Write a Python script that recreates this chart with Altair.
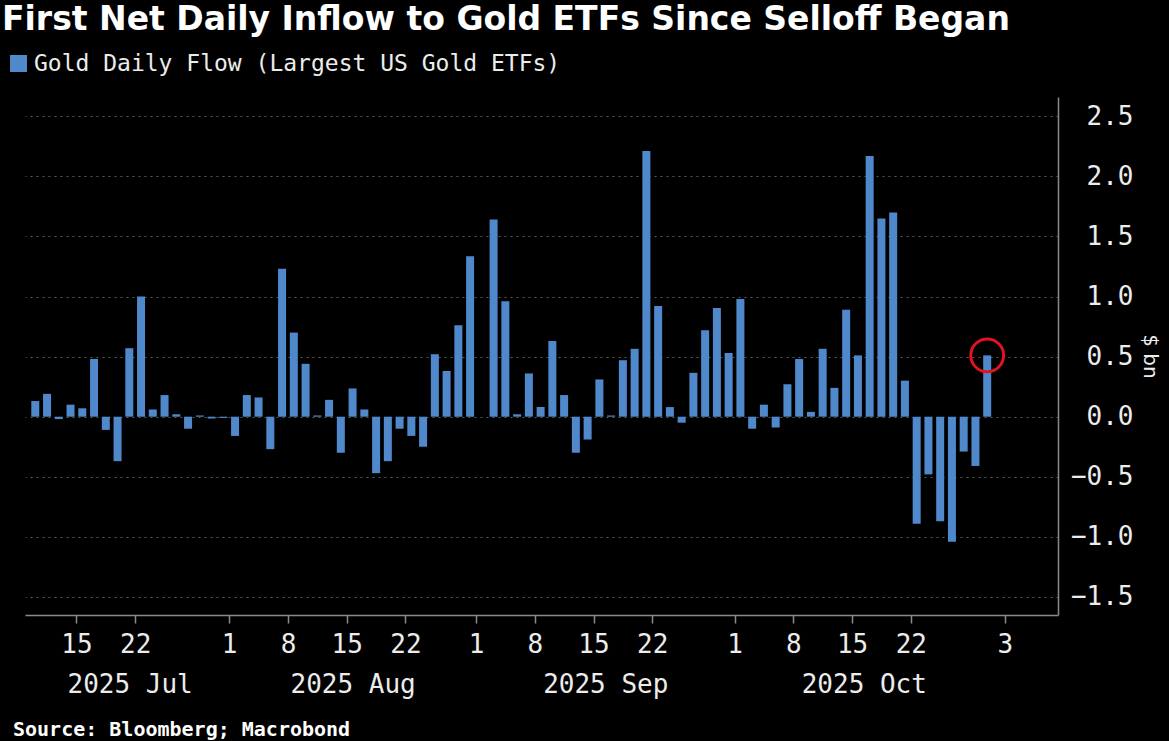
import altair as alt
import pandas as pd

TITLE = "First Net Daily Inflow to Gold ETFs Since Selloff Began"
SERIES = "Gold Daily Flow (Largest US Gold ETFs)"
SOURCE = "Source: Bloomberg; Macrobond"
Y_TITLE = "$ bn"

start_date = "2025-07-09"
end_date = "2025-10-30"

# daily net flow, $ bn, one per weekday from 2025-07-09 to 2025-10-30 (None = no data)
flows = [0.13, 0.19, -0.02, 0.10, 0.07, 0.48, -0.11, -0.37, 0.57, 1.00,
         0.06, 0.18, 0.02, -0.10, 0.01, -0.015, -0.01, -0.16, 0.18, 0.16,
         -0.27, 1.23, 0.70, 0.44, 0.01, 0.14, -0.30, 0.235, 0.06, -0.47,
         -0.37, -0.10, -0.16, -0.25, 0.52, 0.38, 0.76, 1.335, None, 1.64,
         0.96, 0.02, 0.36, 0.08, 0.63, 0.18, -0.30, -0.19, 0.31, 0.01,
         0.47, 0.565, 2.21, 0.92, 0.08, -0.05, 0.365, 0.72, 0.905, 0.53,
         0.98, -0.10, 0.10, -0.09, 0.27, 0.48, 0.04, 0.565, 0.24, 0.89,
         0.51, 2.17, 1.65, 1.70, 0.30, -0.89, -0.48, -0.87, -1.04, -0.29,
         -0.41, 0.51]

day_tick_dates = ["2025-07-15", "2025-07-22", "2025-08-01", "2025-08-08",
                  "2025-08-15", "2025-08-22", "2025-09-01", "2025-09-08",
                  "2025-09-15", "2025-09-22", "2025-10-01", "2025-10-08",
                  "2025-10-15", "2025-10-22", "2025-11-03"]
day_tick_labels = ["15", "22", "1", "8", "15", "22", "1", "8", "15", "22",
                   "1", "8", "15", "22", "3"]
month_keys = ["2025-07", "2025-08", "2025-09", "2025-10"]
month_labels = ["2025 Jul", "2025 Aug", "2025 Sep", "2025 Oct"]
y_ticks = [-1.5, -1.0, -0.5, 0.0, 0.5, 1.0, 1.5, 2.0, 2.5]

BLUE = "#5088CC"
RED = "#E0141E"
GRID = "#5a5a5a"
AXIS = "#8a8a8a"
TXT = "#ececec"
MONO = "DejaVu Sans Mono"

# weekday axis positions
axis_days = pd.bdate_range(start_date, "2025-11-07")
pos = {d.strftime("%Y-%m-%d"): i for i, d in enumerate(axis_days)}
dates = pd.bdate_range(start_date, end_date)

df = pd.DataFrame({
    "i": list(range(len(dates))),
    "date": dates.strftime("%Y-%m-%d"),
    "month": dates.strftime("%Y-%m"),
    "flow": flows,
    "series": SERIES,
}).dropna()

X_MIN, X_MAX = -0.45, 86.6

tick_vals = [pos[d] - 0.5 for d in day_tick_dates]
all_days = pd.DataFrame({"i": list(range(len(dates))), "month": dates.strftime("%Y-%m")})
month_pos = [float(max(all_days[all_days.month == m].i.min() - 0.5, X_MIN)
                   + all_days[all_days.month == m].i.max() + 0.5) / 2
             for m in month_keys]
month_df = pd.DataFrame({"p": month_pos, "lab": month_labels})

day_expr = "[" + ",".join("'%s'" % s for s in day_tick_labels) + "][indexof([" + \
    ",".join(str(v) for v in tick_vals) + "], datum.value)]"
month_expr = "[" + ",".join("'%s'" % s for s in month_labels) + "][indexof([" + \
    ",".join(str(v) for v in month_pos) + "], datum.value)]"

xscale = alt.Scale(domain=[X_MIN, X_MAX], nice=False, zero=False)
yscale = alt.Scale(domain=[-1.65, 2.66], nice=False, zero=False)

day_axis = alt.Axis(values=tick_vals, labelExpr=day_expr, title="", grid=False,
                    orient="bottom",
                    domain=True, domainColor=AXIS, domainWidth=1.5,
                    ticks=True, tickColor=AXIS, tickSize=8, tickWidth=1.5,
                    labelFont=MONO, labelFontSize=26, labelColor=TXT,
                    labelPadding=8, labelFlush=False, labelOverlap=False)
month_axis = alt.Axis(values=month_pos, labelExpr=month_expr, title="", grid=False,
                      orient="bottom",
                      domain=False, ticks=False, tickSize=0,
                      labelFont=MONO, labelFontSize=26, labelColor=TXT,
                      labelPadding=56, labelFlush=False, labelOverlap=False)
y_axis = alt.Axis(values=y_ticks, format=".1f", orient="right", title=Y_TITLE,
                  grid=True, gridColor=GRID, gridDash=[2, 4], gridWidth=1.2,
                  domain=True, domainColor=AXIS, domainWidth=1.5,
                  ticks=False, labelAlign="right", labelPadding=75,
                  labelFont=MONO, labelFontSize=26, labelColor=TXT,
                  titleFont="DejaVu Sans", titleFontSize=20, titleFontWeight="normal",
                  titleColor=TXT, titlePadding=6)

bars = alt.Chart(df).mark_bar(width=8).encode(
    x=alt.X("i:Q", scale=xscale, axis=day_axis),
    y=alt.Y("flow:Q", scale=yscale, axis=y_axis),
    color=alt.Color("series:N", scale=alt.Scale(range=[BLUE]), title=None,
                    legend=alt.Legend(orient="none", legendX=-18, legendY=-45,
                                      symbolType="square", symbolSize=289,
                                      symbolStrokeWidth=0, symbolOpacity=1,
                                      labelFont=MONO, labelFontSize=23,
                                      labelColor=TXT, labelOffset=4,
                                      labelLimit=800)),
)

circle = alt.Chart(df.tail(1)).mark_point(shape="circle", filled=False, size=1075,
                                          color=RED, strokeWidth=3, opacity=1).encode(
    x=alt.X("i:Q", scale=xscale, axis=None),
    y=alt.Y("flow:Q", scale=yscale),
)

months = alt.Chart(month_df).mark_point(opacity=0).encode(
    x=alt.X("p:Q", scale=xscale, axis=month_axis),
)

title = alt.Chart(pd.DataFrame({"t": [TITLE]})).mark_text(
    align="left", baseline="alphabetic", font="DejaVu Sans", fontSize=33,
    fontWeight="bold", color="white").encode(
    text="t:N", x=alt.value(-23), y=alt.value(-67))

source = alt.Chart(pd.DataFrame({"t": [SOURCE]})).mark_text(
    align="left", baseline="middle", font=MONO, fontSize=20, fontWeight="bold",
    color="white").encode(text="t:N", x=alt.value(-12), y=alt.value(633))

chart = alt.layer(bars, circle, months, title, source).resolve_axis(x="independent").properties(
    width=1033, height=518,
    padding={"left": 25, "top": 97, "right": 111, "bottom": 126},
    autosize=alt.AutoSizeParams(type="none"),
).configure(background="black").configure_view(strokeWidth=0)

chart.save("out.html", embed_options={"renderer": "svg", "actions": False})
